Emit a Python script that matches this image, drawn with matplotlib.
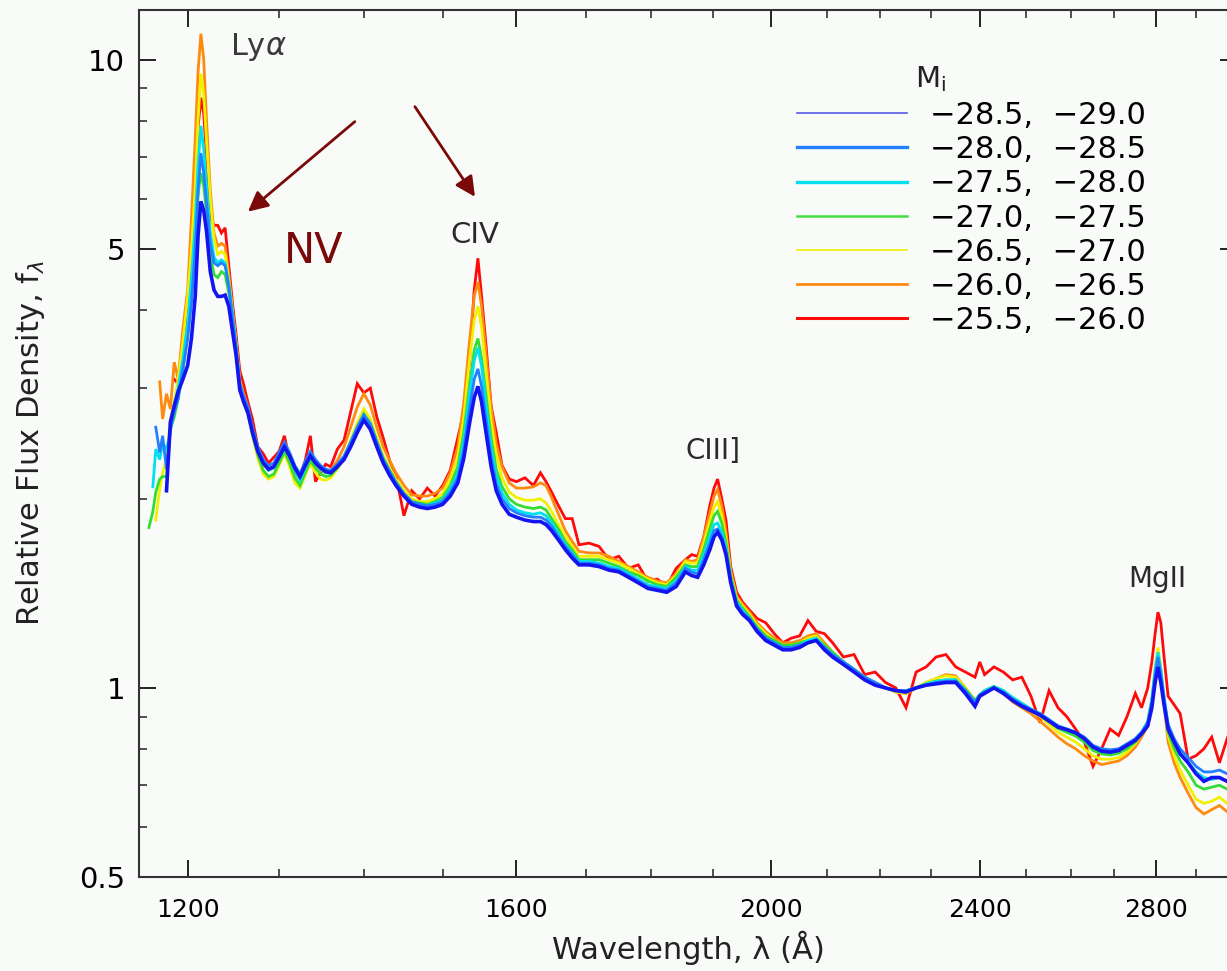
"""Composite quasar spectra in bins of absolute magnitude M_i."""
import numpy as np
import matplotlib
matplotlib.use("Agg")
import matplotlib.pyplot as plt
from matplotlib.lines import Line2D
from matplotlib.ticker import FixedLocator, FixedFormatter, NullFormatter

nan = np.nan

# rest-frame wavelength grid (Angstrom)
wave = [
    1160, 1164, 1167, 1171, 1174, 1178, 1182, 1186, 1190, 1195,
    1200, 1204, 1208, 1211, 1214, 1217, 1220, 1224, 1228, 1232,
    1236, 1240, 1244, 1248, 1252, 1256, 1260, 1265, 1270, 1276,
    1282, 1288, 1294, 1300, 1306, 1312, 1318, 1324, 1330, 1336,
    1342, 1348, 1354, 1360, 1368, 1376, 1384, 1392, 1400, 1408,
    1416, 1424, 1432, 1440, 1450, 1460, 1470, 1480, 1490, 1500,
    1510, 1520, 1528, 1536, 1542, 1547, 1552, 1558, 1565, 1572,
    1580, 1590, 1600, 1612, 1624, 1634, 1642, 1650, 1660, 1670,
    1680, 1690, 1705, 1720, 1735, 1750, 1765, 1780, 1795, 1810,
    1825, 1840, 1855, 1865, 1875, 1885, 1895, 1902, 1908, 1915,
    1922, 1930, 1940, 1950, 1962, 1975, 1990, 2005, 2020, 2035,
    2050, 2065, 2080, 2095, 2110, 2130, 2150, 2170, 2190, 2210,
    2230, 2250, 2270, 2290, 2310, 2330, 2350, 2370, 2390, 2400,
    2410, 2430, 2450, 2470, 2490, 2510, 2530, 2550, 2570, 2590,
    2610, 2630, 2650, 2670, 2690, 2710, 2730, 2750, 2765, 2780,
    2790, 2798, 2805, 2812, 2820, 2830, 2845, 2860, 2880, 2900,
    2920, 2940, 2960, 2980, 3000,
]

# -28.5, -29.0
flux_285 = [
    nan, nan, nan, nan, nan, 2.06, 2.65, 2.81, 2.96, 3.10,
    3.26, 3.60, 4.20, 5.26, 5.95, 5.75, 5.33, 4.60, 4.30, 4.20,
    4.20, 4.22, 4.05, 3.70, 3.38, 2.98, 2.86, 2.74, 2.55, 2.38,
    2.28, 2.23, 2.25, 2.33, 2.42, 2.34, 2.24, 2.17, 2.26, 2.34,
    2.28, 2.24, 2.21, 2.20, 2.25, 2.31, 2.42, 2.55, 2.67, 2.58,
    2.42, 2.28, 2.18, 2.10, 2.02, 1.96, 1.94, 1.93, 1.94, 1.96,
    2.02, 2.12, 2.32, 2.65, 2.90, 3.02, 2.85, 2.55, 2.25, 2.06,
    1.96, 1.89, 1.87, 1.85, 1.84, 1.84, 1.82, 1.78, 1.72, 1.66,
    1.61, 1.57, 1.57, 1.56, 1.54, 1.53, 1.50, 1.47, 1.44, 1.43,
    1.42, 1.45, 1.53, 1.51, 1.50, 1.57, 1.66, 1.74, 1.77, 1.72,
    1.63, 1.47, 1.35, 1.31, 1.28, 1.23, 1.19, 1.17, 1.15, 1.15,
    1.16, 1.18, 1.19, 1.15, 1.12, 1.09, 1.06, 1.03, 1.01, 1.00,
    0.99, 0.985, 1.00, 1.01, 1.015, 1.02, 1.02, 0.98, 0.935, 0.97,
    0.98, 1.00, 0.98, 0.955, 0.935, 0.92, 0.905, 0.885, 0.866, 0.858,
    0.848, 0.83, 0.805, 0.793, 0.79, 0.795, 0.81, 0.825, 0.845, 0.87,
    0.93, 1.02, 1.08, 1.02, 0.94, 0.86, 0.82, 0.785, 0.76, 0.73,
    0.71, 0.72, 0.72, 0.71, 0.72,
]

# -28.0, -28.5
flux_280 = [
    nan, nan, 2.60, 2.37, 2.52, 2.23, 2.58, 2.75, 2.88, 3.22,
    3.60, 4.10, 5.00, 6.20, 7.10, 6.60, 5.90, 5.10, 4.75, 4.70,
    4.75, 4.70, 4.35, 3.90, 3.48, 3.05, 2.92, 2.80, 2.60, 2.42,
    2.31, 2.26, 2.28, 2.37, 2.46, 2.37, 2.26, 2.19, 2.29, 2.38,
    2.31, 2.26, 2.23, 2.22, 2.27, 2.34, 2.46, 2.60, 2.72, 2.63,
    2.46, 2.31, 2.21, 2.12, 2.04, 1.98, 1.96, 1.95, 1.96, 1.98,
    2.05, 2.16, 2.40, 2.80, 3.10, 3.22, 3.02, 2.68, 2.33, 2.11,
    2.00, 1.93, 1.90, 1.88, 1.87, 1.87, 1.85, 1.81, 1.74, 1.68,
    1.63, 1.58, 1.58, 1.57, 1.55, 1.54, 1.51, 1.48, 1.45, 1.44,
    1.43, 1.47, 1.55, 1.53, 1.52, 1.60, 1.70, 1.78, 1.79, 1.74,
    1.65, 1.48, 1.36, 1.32, 1.29, 1.24, 1.20, 1.18, 1.16, 1.16,
    1.17, 1.18, 1.19, 1.16, 1.13, 1.10, 1.07, 1.04, 1.02, 1.00,
    0.99, 0.99, 1.00, 1.01, 1.02, 1.025, 1.025, 0.99, 0.95, 0.975,
    0.985, 1.00, 0.985, 0.96, 0.94, 0.925, 0.91, 0.89, 0.87, 0.86,
    0.85, 0.835, 0.81, 0.80, 0.797, 0.80, 0.815, 0.83, 0.85, 0.88,
    0.95, 1.05, 1.12, 1.05, 0.96, 0.875, 0.83, 0.80, 0.775, 0.75,
    0.735, 0.735, 0.74, 0.73, 0.735,
]

# -27.5, -28.0
flux_275 = [
    nan, 2.09, 2.40, 2.31, 2.45, 2.40, 2.55, 2.83, 3.00, 3.34,
    3.80, 4.50, 5.50, 6.80, 7.85, 7.20, 6.30, 5.30, 4.85, 4.75,
    4.80, 4.75, 4.40, 3.95, 3.50, 3.05, 2.90, 2.78, 2.58, 2.40,
    2.28, 2.22, 2.24, 2.33, 2.44, 2.34, 2.22, 2.14, 2.24, 2.35,
    2.28, 2.23, 2.20, 2.20, 2.26, 2.33, 2.46, 2.60, 2.72, 2.63,
    2.46, 2.31, 2.21, 2.12, 2.03, 1.97, 1.96, 1.95, 1.97, 1.99,
    2.07, 2.20, 2.48, 2.95, 3.32, 3.48, 3.25, 2.82, 2.42, 2.17,
    2.04, 1.96, 1.92, 1.90, 1.89, 1.90, 1.88, 1.83, 1.76, 1.69,
    1.64, 1.59, 1.59, 1.58, 1.56, 1.55, 1.52, 1.49, 1.46, 1.45,
    1.44, 1.48, 1.56, 1.54, 1.54, 1.63, 1.74, 1.82, 1.83, 1.77,
    1.67, 1.49, 1.37, 1.33, 1.29, 1.24, 1.20, 1.18, 1.16, 1.16,
    1.17, 1.19, 1.20, 1.16, 1.13, 1.10, 1.07, 1.04, 1.02, 1.00,
    0.99, 0.99, 1.00, 1.015, 1.025, 1.03, 1.03, 0.99, 0.95, 0.975,
    0.99, 1.005, 0.99, 0.965, 0.945, 0.925, 0.91, 0.89, 0.87, 0.86,
    0.85, 0.83, 0.805, 0.795, 0.79, 0.795, 0.81, 0.83, 0.85, 0.885,
    0.96, 1.07, 1.14, 1.07, 0.97, 0.87, 0.82, 0.79, 0.76, 0.735,
    0.72, 0.715, 0.72, 0.71, 0.715,
]

# -27.0, -27.5
flux_270 = [
    1.80, 1.91, 2.05, 2.15, 2.17, 2.17, 2.58, 2.70, 2.88, 3.20,
    3.65, 4.20, 5.10, 6.10, 6.60, 6.30, 5.70, 4.90, 4.55, 4.50,
    4.60, 4.55, 4.25, 3.85, 3.45, 3.00, 2.85, 2.73, 2.53, 2.35,
    2.22, 2.17, 2.19, 2.28, 2.38, 2.28, 2.16, 2.10, 2.20, 2.30,
    2.24, 2.19, 2.17, 2.18, 2.24, 2.33, 2.46, 2.60, 2.73, 2.64,
    2.47, 2.32, 2.22, 2.13, 2.04, 1.98, 1.97, 1.96, 1.98, 2.01,
    2.10, 2.25, 2.55, 3.05, 3.45, 3.60, 3.35, 2.92, 2.50, 2.23,
    2.09, 2.00, 1.96, 1.94, 1.93, 1.94, 1.92, 1.86, 1.79, 1.71,
    1.66, 1.60, 1.60, 1.60, 1.58, 1.56, 1.53, 1.51, 1.48, 1.46,
    1.45, 1.50, 1.57, 1.56, 1.56, 1.66, 1.79, 1.88, 1.91, 1.83,
    1.70, 1.51, 1.38, 1.34, 1.30, 1.25, 1.21, 1.19, 1.17, 1.17,
    1.18, 1.19, 1.20, 1.17, 1.14, 1.10, 1.07, 1.04, 1.02, 1.00,
    0.99, 0.99, 1.00, 1.015, 1.025, 1.03, 1.03, 0.995, 0.955, 0.975,
    0.99, 1.005, 0.99, 0.965, 0.945, 0.925, 0.905, 0.885, 0.862, 0.85,
    0.838, 0.82, 0.795, 0.785, 0.782, 0.787, 0.80, 0.82, 0.845, 0.88,
    0.95, 1.05, 1.12, 1.05, 0.95, 0.85, 0.80, 0.765, 0.735, 0.70,
    0.69, 0.695, 0.70, 0.69, 0.695,
]

# -26.5, -27.0
flux_265 = [
    nan, nan, 1.85, 2.07, 2.20, 2.31, 2.68, 2.85, 3.10, 3.55,
    4.20, 5.00, 6.30, 8.00, 9.50, 8.80, 7.40, 6.00, 5.20, 4.90,
    4.95, 4.90, 4.45, 3.95, 3.52, 3.05, 2.88, 2.74, 2.52, 2.32,
    2.19, 2.15, 2.17, 2.26, 2.36, 2.25, 2.12, 2.08, 2.18, 2.28,
    2.20, 2.15, 2.14, 2.16, 2.23, 2.33, 2.48, 2.64, 2.78, 2.68,
    2.50, 2.34, 2.24, 2.15, 2.06, 2.00, 1.98, 1.98, 2.00, 2.04,
    2.15, 2.33, 2.70, 3.35, 3.85, 4.05, 3.75, 3.20, 2.65, 2.35,
    2.16, 2.05, 2.01, 1.99, 1.99, 2.00, 1.97, 1.91, 1.82, 1.74,
    1.68, 1.62, 1.62, 1.62, 1.60, 1.58, 1.55, 1.52, 1.49, 1.47,
    1.46, 1.51, 1.59, 1.58, 1.58, 1.70, 1.84, 1.94, 1.98, 1.88,
    1.73, 1.52, 1.39, 1.35, 1.31, 1.26, 1.22, 1.19, 1.17, 1.17,
    1.18, 1.20, 1.21, 1.17, 1.14, 1.10, 1.07, 1.04, 1.02, 1.00,
    0.985, 0.98, 1.00, 1.02, 1.035, 1.045, 1.04, 1.00, 0.955, 0.975,
    0.99, 1.005, 0.99, 0.96, 0.94, 0.92, 0.90, 0.875, 0.85, 0.835,
    0.82, 0.80, 0.78, 0.77, 0.77, 0.775, 0.79, 0.815, 0.845, 0.885,
    0.96, 1.08, 1.16, 1.08, 0.96, 0.84, 0.78, 0.74, 0.70, 0.665,
    0.655, 0.66, 0.67, 0.655, 0.665,
]

# -26.0, -26.5
flux_260 = [
    nan, nan, nan, 3.07, 2.68, 2.94, 2.78, 3.30, 3.10, 3.73,
    4.30, 5.60, 7.50, 9.60, 11.0, 10.0, 8.00, 6.20, 5.30, 5.05,
    5.10, 5.05, 4.55, 4.00, 3.55, 3.10, 2.95, 2.80, 2.58, 2.40,
    2.27, 2.22, 2.24, 2.33, 2.44, 2.33, 2.20, 2.14, 2.24, 2.33,
    2.27, 2.22, 2.20, 2.22, 2.30, 2.42, 2.60, 2.80, 2.94, 2.82,
    2.60, 2.42, 2.30, 2.20, 2.10, 2.03, 2.02, 2.02, 2.04, 2.08,
    2.20, 2.42, 2.85, 3.60, 4.20, 4.43, 4.05, 3.40, 2.80, 2.45,
    2.25, 2.12, 2.08, 2.08, 2.09, 2.12, 2.10, 2.01, 1.89, 1.78,
    1.71, 1.65, 1.64, 1.64, 1.62, 1.59, 1.56, 1.53, 1.50, 1.48,
    1.47, 1.52, 1.60, 1.59, 1.60, 1.74, 1.90, 2.02, 2.07, 1.95,
    1.77, 1.54, 1.40, 1.36, 1.32, 1.27, 1.23, 1.20, 1.18, 1.18,
    1.19, 1.21, 1.22, 1.18, 1.14, 1.10, 1.07, 1.04, 1.02, 1.00,
    0.985, 0.98, 1.00, 1.02, 1.035, 1.05, 1.045, 1.00, 0.955, 0.97,
    0.985, 1.00, 0.98, 0.95, 0.93, 0.91, 0.885, 0.86, 0.835, 0.815,
    0.80, 0.78, 0.765, 0.755, 0.76, 0.765, 0.78, 0.805, 0.835, 0.87,
    0.95, 1.06, 1.13, 1.05, 0.94, 0.82, 0.76, 0.72, 0.68, 0.645,
    0.63, 0.64, 0.65, 0.635, 0.645,
]

# -25.5, -26.0
flux_255 = [
    nan, nan, nan, nan, nan, nan, nan, 3.10, 3.05, 3.50,
    3.90, 4.80, 6.20, 7.80, 8.70, 8.20, 7.00, 5.60, 5.45, 5.45,
    5.30, 5.40, 4.70, 4.10, 3.65, 3.20, 3.05, 2.85, 2.68, 2.42,
    2.36, 2.28, 2.33, 2.38, 2.52, 2.30, 2.22, 2.18, 2.30, 2.52,
    2.13, 2.20, 2.27, 2.25, 2.40, 2.48, 2.75, 3.05, 2.95, 3.00,
    2.70, 2.50, 2.30, 2.18, 1.88, 2.06, 2.00, 2.08, 2.02, 2.10,
    2.22, 2.50, 2.75, 3.34, 4.30, 4.83, 4.20, 3.51, 2.81, 2.55,
    2.26, 2.15, 2.13, 2.16, 2.10, 2.20, 2.13, 2.05, 1.95, 1.86,
    1.86, 1.69, 1.70, 1.68, 1.60, 1.62, 1.55, 1.57, 1.48, 1.49,
    1.45, 1.55, 1.60, 1.63, 1.62, 1.74, 1.95, 2.08, 2.15, 2.00,
    1.85, 1.56, 1.42, 1.37, 1.33, 1.29, 1.27, 1.22, 1.18, 1.20,
    1.21, 1.28, 1.23, 1.22, 1.18, 1.12, 1.13, 1.05, 1.06, 1.02,
    1.00, 0.93, 1.06, 1.08, 1.12, 1.13, 1.08, 1.06, 1.04, 1.10,
    1.05, 1.08, 1.06, 1.03, 1.04, 0.97, 0.88, 0.99, 0.93, 0.90,
    0.86, 0.82, 0.75, 0.80, 0.86, 0.84, 0.90, 0.98, 0.93, 1.00,
    1.10, 1.22, 1.32, 1.27, 1.12, 0.97, 0.94, 0.91, 0.77, 0.78,
    0.80, 0.835, 0.76, 0.83, 0.79,
]

bin_labels = [
    "\u221228.5,  \u221229.0",
    "\u221228.0,  \u221228.5",
    "\u221227.5,  \u221228.0",
    "\u221227.0,  \u221227.5",
    "\u221226.5,  \u221227.0",
    "\u221226.0,  \u221226.5",
    "\u221225.5,  \u221226.0",
]
spectra = [flux_285, flux_280, flux_275, flux_270, flux_265, flux_260, flux_255]
colors = ["#1414f0", "#2080ff", "#00e0f0", "#33dd33", "#f0f000", "#ff8a10", "#ff0a0a"]
plot_widths = [2.6, 2.0, 2.0, 2.0, 2.0, 2.0, 2.0]
legend_colors = ["#4a4ae8", "#2080ff", "#00e0f0", "#44dd44", "#f0f000", "#ff8a10", "#ff0a0a"]
legend_widths = [1.1, 2.4, 2.4, 1.8, 1.2, 2.0, 2.2]

bg = "#f9fbf9"
fig = plt.figure(figsize=(12.27, 9.71), dpi=100)
fig.patch.set_facecolor(bg)
ax = fig.add_axes([0.1133, 0.0968, 0.8949, 0.8929])
ax.set_facecolor(bg)

# faintest bin first, brightest (dark blue) on top
for flux, c, w in reversed(list(zip(spectra, colors, plot_widths))):
    ax.plot(wave, flux, color=c, lw=w, solid_joinstyle="miter")

ax.set_xscale("log")
ax.set_yscale("log")
ax.set_xlim(1150, 3006)
ax.set_ylim(0.5, 12.0)

ax.xaxis.set_major_locator(FixedLocator([1200, 1600, 2000, 2400, 2800]))
ax.xaxis.set_major_formatter(FixedFormatter(["1200", "1600", "2000", "2400", "2800"]))
ax.xaxis.set_minor_locator(FixedLocator([1300, 1400, 1500, 1700, 1800, 1900, 2100,
                                         2200, 2300, 2500, 2600, 2700, 2900]))
ax.xaxis.set_minor_formatter(NullFormatter())
ax.yaxis.set_major_locator(FixedLocator([0.5, 1, 5, 10]))
ax.yaxis.set_major_formatter(FixedFormatter(["0.5", "1", "5", "10"]))
ax.yaxis.set_minor_locator(FixedLocator([0.6, 0.7, 0.8, 0.9, 2, 3, 4, 6, 7, 8, 9]))
ax.yaxis.set_minor_formatter(NullFormatter())

ax.tick_params(which="both", direction="in", top=True, right=True, color="#222222")
ax.tick_params(which="major", length=12, width=1.4)
ax.tick_params(which="minor", length=6, width=1.1)
ax.tick_params(axis="x", which="major", labelsize=18, pad=15)
ax.tick_params(axis="y", which="major", labelsize=21, pad=10)
for s in ax.spines.values():
    s.set_color("#333333")
    s.set_linewidth(1.5)

ax.set_xlabel("Wavelength, \u03bb (\u00c5)", fontsize=22, color="#222222")
ax.set_ylabel(r"Relative Flux Density, f$_{\lambda}$", fontsize=22, color="#222222")
ax.xaxis.label.set_va("center")
ax.yaxis.label.set_va("center")
ax.xaxis.set_label_coords(0.5, -0.082)
ax.yaxis.set_label_coords(-0.099, 0.5)

# emission line labels
line_kw = dict(color="#2a2a2a", ha="center", va="baseline")
ax.text(1245, 10.19, r"Ly$\alpha$", fontsize=22, color="#3a3a3a", ha="left", va="baseline")
ax.text(1543, 5.11, "CIV", fontsize=21, **line_kw)
ax.text(1900, 2.31, "CIII]", fontsize=20, **line_kw)
ax.text(2803, 1.448, "MgII", fontsize=20, **line_kw)
ax.text(1340, 4.75, "NV", fontsize=30, color="#7a0a0a", ha="center", va="baseline")

arrow_kw = dict(arrowstyle="-|>,head_length=0.6,head_width=0.3", color="#7a0a0a",
                lw=2.0, shrinkA=0, shrinkB=0, mutation_scale=20)
ax.annotate("", xy=(1265, 5.73), xytext=(1389, 7.97), arrowprops=arrow_kw)
ax.annotate("", xy=(1543, 6.05), xytext=(1464, 8.42), arrowprops=arrow_kw)

# legend
handles = [Line2D([], [], color=c, lw=w) for c, w in zip(legend_colors, legend_widths)]
ax.legend(handles, bin_labels, loc="upper left",
          bbox_to_anchor=(797 / 1227, 1 - 101 / 971), bbox_transform=fig.transFigure,
          frameon=False, fontsize=22, handlelength=3.6, handletextpad=0.75,
          labelspacing=0.17, borderpad=0, borderaxespad=0)
fig.text(915 / 1227, 1 - 87 / 971, r"M$_{\rm i}$", fontsize=21, color="#222222",
         ha="left", va="baseline")

fig.savefig("out.png", dpi=100, facecolor=bg)
